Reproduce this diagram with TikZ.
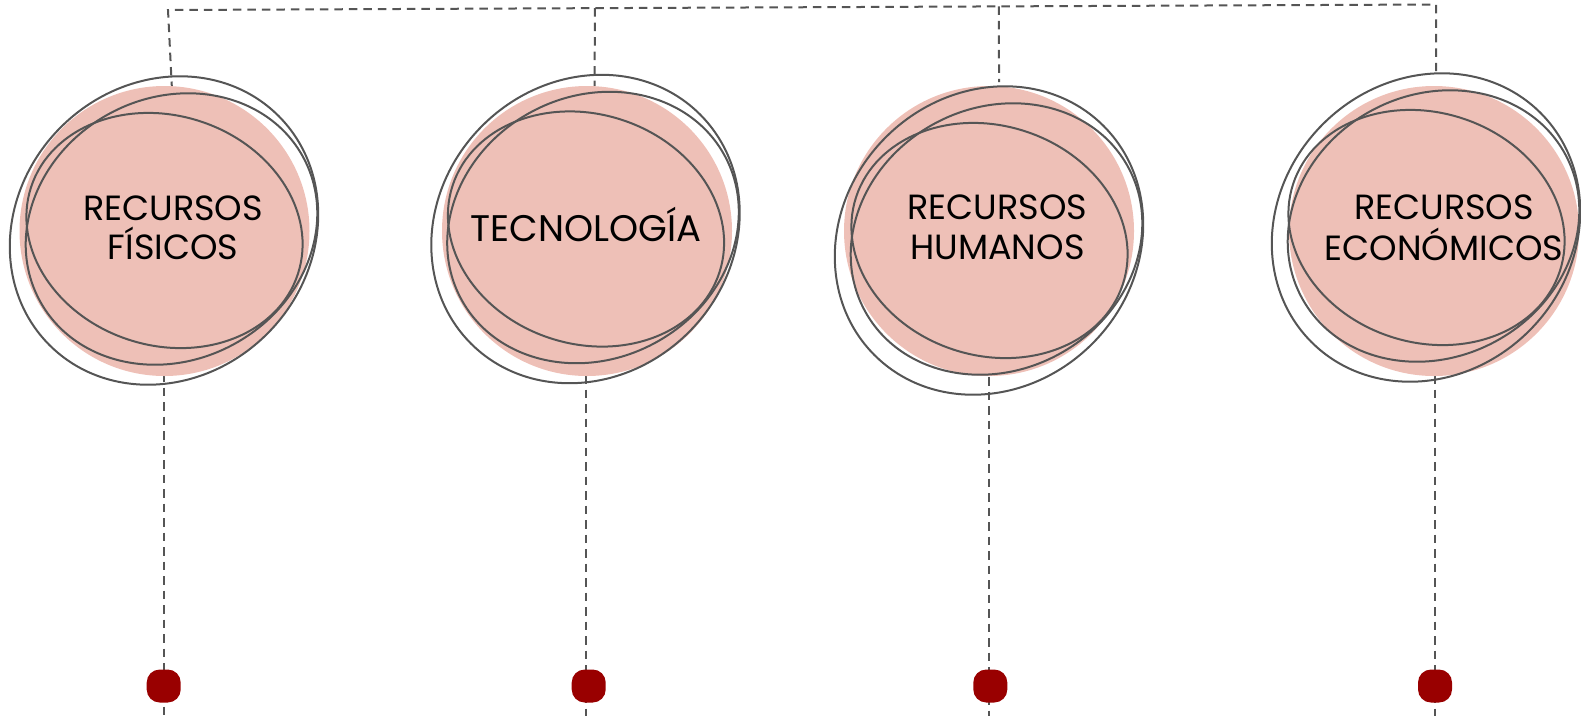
\documentclass[tikz,border=0pt]{standalone}
\usepackage{fontspec}
\setmainfont{Poppins}
\usetikzlibrary{calc}
\definecolor{pinkfill}{RGB}{238,192,183}
\definecolor{ringgray}{RGB}{85,85,85}
\definecolor{dashgray}{RGB}{85,85,85}
\definecolor{dotred}{RGB}{153,0,0}
\newcommand\ringset[2]{%
  \begin{scope}[shift={(#1,#2)}]
    \draw[ring] (-0.5,0) ellipse [x radius=162pt, y radius=146pt, rotate=45];
    \draw[ring] (7,1.5) ellipse [x radius=150pt, y radius=131pt, rotate=29];
    \draw[ring] (0,0) ellipse [x radius=140.3pt, y radius=114.9pt, rotate=-18];
  \end{scope}}
\begin{document}
\begin{tikzpicture}[x=1pt,y=1pt,
  ring/.style={draw=ringgray, line width=2pt},
  link/.style={draw=dashgray, line width=2pt, dash pattern=on 8.5pt off 6pt},
  disc/.style={circle, fill=pinkfill, minimum size=290pt, inner sep=0pt},
  marker/.style={rectangle, rounded corners=13pt, fill=dotred, minimum width=34pt, minimum height=33pt, inner sep=0pt},
  lbl/.style={font=\fontsize{35}{40}\selectfont, text=black, inner sep=0pt, anchor=base}]
\useasboundingbox (0,0) rectangle (1581,-716);
% connector coordinates
\coordinate (a1) at (168,-10);
\coordinate (a4) at (1436,-4.5);
\coordinate (a2) at ($(a1)!(595,-7)!(a4)$);
\coordinate (a3) at ($(a1)!(999,-5)!(a4)$);
\coordinate (b1) at (172,-90);
\coordinate (b2) at (594.5,-86);
\coordinate (b3) at (999,-82);
\coordinate (b4) at (1436,-71);
\coordinate (c1) at (164,-373);
\coordinate (c2) at (586,-375);
\coordinate (c3) at (989,-377);
\coordinate (c4) at (1435,-375);
\coordinate (e1) at (164,-716);
\coordinate (e2) at (586,-716);
\coordinate (e3) at (989,-716);
\coordinate (e4) at (1435,-716);
% dashed connectors
\draw[link] (b1) -- (a1) -- (a4) -- (b4);
\draw[link] (a2) -- (b2);
\draw[link] (a3) -- (b3);
\draw[link] (c1) -- (e1);
\draw[link] (c2) -- (e2);
\draw[link] (c3) -- (e3);
\draw[link] (c4) -- (e4);
% pink discs
\node[disc] (p1) at (164.5,-231) {};
\node[disc] (p2) at (587,-231) {};
\node[disc] (p3) at (989,-231) {};
\node[disc] (p4) at (1434,-231) {};
% outline rings
\ringset{164.5}{-230.5}
\ringset{586}{-229}
\ringset{989.5}{-240.5}
\ringset{1426.5}{-227.5}
% texts
\node[lbl] (t1a) at (173,-220) {RECURSOS};
\node[lbl] (t1b) at (173,-259) {FÍSICOS};
\node[lbl, font=\fontsize{37}{40}\selectfont] (t2) at (586,-241) {TECNOLOGÍA};
\node[lbl] (t3a) at (997.5,-219) {RECURSOS};
\node[lbl] (t3b) at (997.5,-259) {HUMANOS};
\node[lbl] (t4a) at (1444,-219) {RECURSOS};
\node[lbl] (t4b) at (1444,-260) {ECONÓMICOS};
% red markers
\node[marker] (d1) at (163.7,-686) {};
\node[marker] (d2) at (588.7,-686) {};
\node[marker] (d3) at (990.3,-686) {};
\node[marker] (d4) at (1435,-686) {};
\end{tikzpicture}
\end{document}
